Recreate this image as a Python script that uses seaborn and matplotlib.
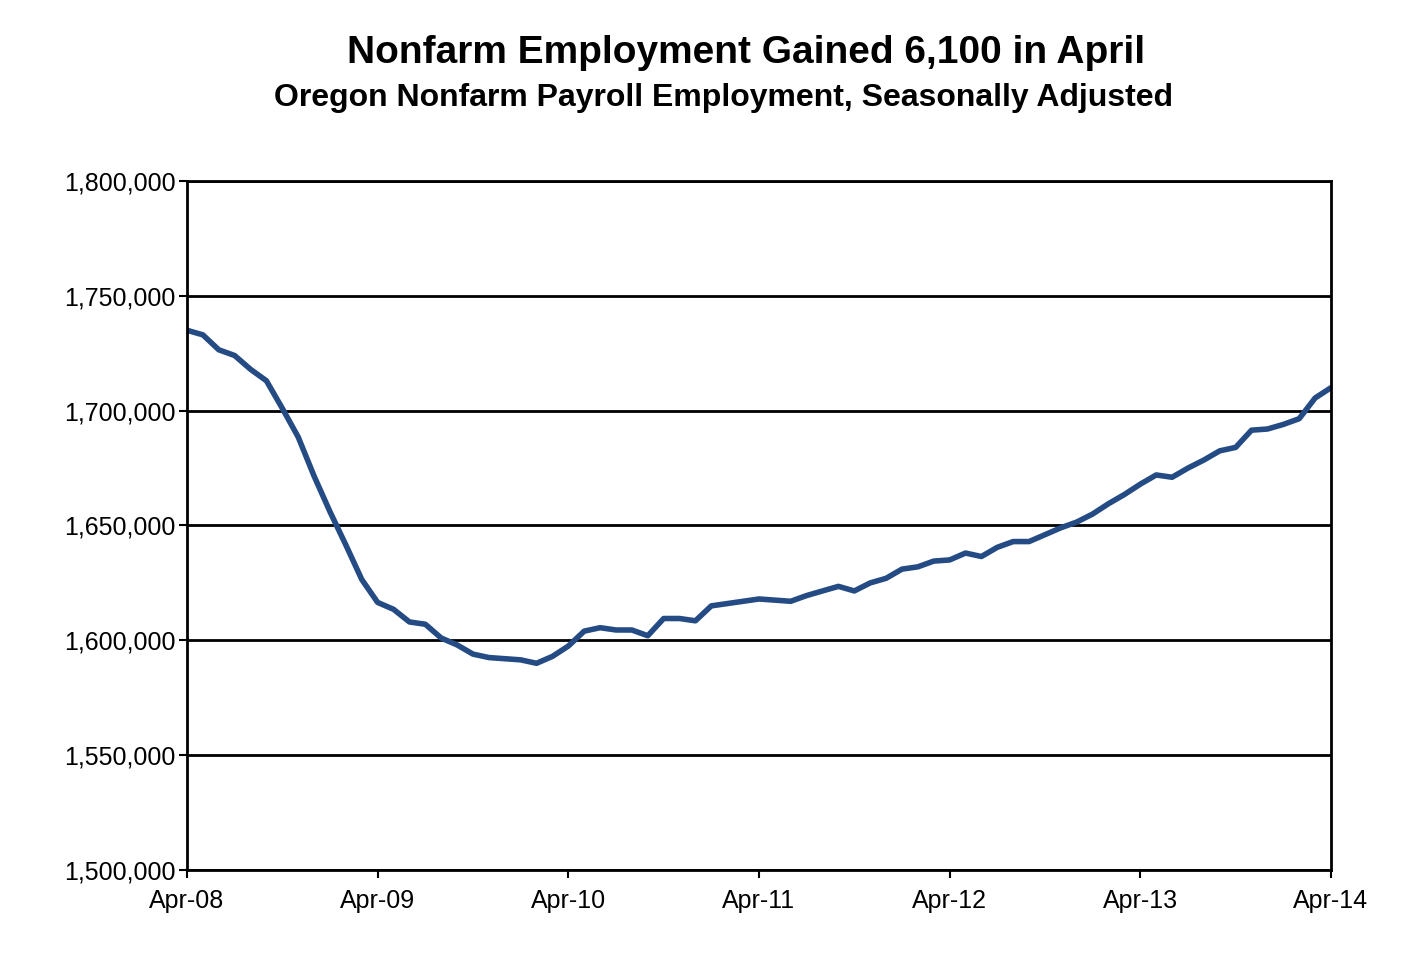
import numpy as np
import matplotlib
matplotlib.use("Agg")
import matplotlib.pyplot as plt
import seaborn as sns
import pandas as pd

# monthly values Apr-08 .. Apr-14
employment = [
    1735000, 1733000, 1726500, 1724000, 1718000, 1713000, 1701000, 1688500, 1671500, 1656000, 1641500, 1626500,
    1616500, 1613500, 1608000, 1607000, 1601000, 1598000, 1594000, 1592500, 1592000, 1591500, 1590000, 1593000,
    1597500, 1604000, 1605500, 1604500, 1604500, 1602000, 1609500, 1609500, 1608500, 1615000, 1616000, 1617000,
    1618000, 1617500, 1617000, 1619500, 1621500, 1623500, 1621500, 1625000, 1627000, 1631000, 1632000, 1634500,
    1635000, 1638000, 1636500, 1640500, 1643000, 1643000, 1646000, 1649000, 1651500, 1655000, 1659500, 1663500,
    1668000, 1672000, 1671000, 1675000, 1678500, 1682500, 1684000, 1691500, 1692000, 1694000, 1696500, 1705500,
    1710000,
]
tick_labels = ["Apr-08", "Apr-09", "Apr-10", "Apr-11", "Apr-12", "Apr-13", "Apr-14"]

df = pd.DataFrame({"month": np.arange(len(employment)), "jobs": employment})

sns.set_style("white")
plt.rcParams["font.family"] = ["Liberation Sans", "DejaVu Sans"]
plt.rcParams["text.color"] = "black"

fig = plt.figure(figsize=(14.08, 9.57), dpi=100)
ax = fig.add_axes([0.1328, 0.0909, 0.8125, 0.72])

sns.lineplot(data=df, x="month", y="jobs", ax=ax, color="#254B84", linewidth=4)

ax.set_xlim(0, 72)
ax.set_ylim(1500000, 1800000)
ax.set_xticks(np.arange(0, 73, 12))
ax.set_xticklabels(tick_labels)
yt = np.arange(1500000, 1800001, 50000)
ax.set_yticks(yt)
ax.set_yticklabels([f"{v:,}" for v in yt])
ax.yaxis.grid(True, color="black", linewidth=2)
ax.set_axisbelow(True)
for s in ax.spines.values():
    s.set_color("black")
    s.set_linewidth(2)
ax.tick_params(axis="both", labelsize=18, length=6, width=1.5, direction="out",
               bottom=True, left=True, colors="black")
ax.tick_params(axis="x", pad=8)
ax.tick_params(axis="y", pad=2)
ax.set_xlabel("")
ax.set_ylabel("")

fig.text(0.53, 0.945, "Nonfarm Employment Gained 6,100 in April", ha="center",
         va="center", fontsize=28, fontweight="bold", color="black")
fig.text(0.514, 0.898, "Oregon Nonfarm Payroll Employment, Seasonally Adjusted",
         ha="center", va="center", fontsize=23, fontweight="bold", color="black")

fig.savefig("out.png", dpi=100)
